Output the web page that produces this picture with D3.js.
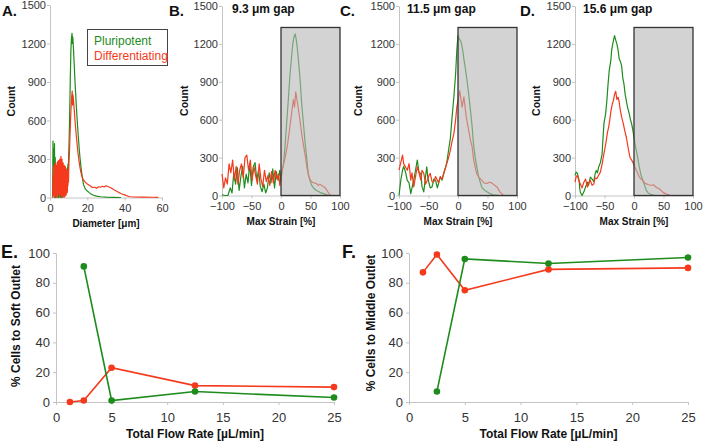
<!DOCTYPE html>
<html><head><meta charset="utf-8">
<script src="https://cdn.jsdelivr.net/npm/d3@7"></script>
<style>body{margin:0;background:#fff}svg{display:block}text{font-family:"Liberation Sans",Arial,sans-serif}</style>
</head><body><svg id="c" width="703" height="443"></svg>
<script>
// ---------- DATA ----------
const seriesNames = ["Pluripotent", "Differentiating"];
const countTicks = [0, 300, 600, 900, 1200, 1500];
const diamTicks = [0, 20, 40, 60];
const strainTicks = [-100, -50, 0, 50, 100];
const flowTicks = [0, 5, 10, 15, 20, 25];
const pctTicks = [0, 20, 40, 60, 80, 100];
const gapTitles = ["9.3 μm gap", "11.5 μm gap", "15.6 μm gap"];
const softRegionTop = 1330;

// A: diameter histograms [diameter µm, count]
const diamGreen = [[1.4,0],[1.6,440],[1.8,60],[2.0,380],[2.2,10],[2.4,420],[2.6,80],[2.8,310],[3.0,0],[3.2,220],[3.4,30],[3.6,160],[3.8,0],[4.0,130],[4.2,20],[4.4,110],[4.6,0],[4.8,90],[5.0,10],[5.2,70],[5.4,0],[5.6,60],[5.8,5],[6.0,80],[6.2,0],[6.4,50],[6.6,0],[6.8,70],[7.0,10],[7.2,120],[7.4,20],[7.6,140],[7.8,30],[8.0,90],[8.2,40],[8.4,160],[8.6,60],[8.8,200],[9.0,90],[9.2,230],[9.4,150],[9.6,260],[9.8,200],[10.0,320],[10.3,480],[10.6,700],[10.9,950],[11.2,1150],[11.5,1240],[11.8,1280],[12.0,1200],[12.2,1250],[12.5,1180],[12.8,1090],[13.1,1000],[13.4,900],[13.7,820],[14.0,740],[14.4,640],[14.8,550],[15.2,470],[15.6,390],[16.0,320],[16.5,250],[17.0,190],[17.5,140],[18.0,100],[18.5,80],[19.0,65],[20,50],[21,38],[22,28],[23,20],[24,14],[25,10],[27,6],[30,3],[34,1],[38,0]];
const diamRed = [[1.5,0],[1.65,180],[1.8,20],[1.95,240],[2.1,40],[2.25,200],[2.4,0],[2.55,260],[2.7,60],[2.85,230],[3.0,10],[3.15,270],[3.3,80],[3.45,220],[3.6,0],[3.75,250],[3.9,50],[4.05,280],[4.2,20],[4.35,240],[4.5,90],[4.65,290],[4.8,30],[4.95,250],[5.1,10],[5.25,300],[5.4,100],[5.55,260],[5.7,20],[5.85,320],[6.0,60],[6.15,280],[6.3,0],[6.45,300],[6.6,90],[6.75,240],[6.9,10],[7.05,270],[7.2,70],[7.35,220],[7.5,0],[7.65,250],[7.8,40],[7.95,210],[8.1,10],[8.25,240],[8.4,60],[8.55,200],[8.7,20],[8.85,220],[9.0,70],[9.15,190],[9.3,40],[9.45,210],[9.6,90],[9.75,230],[9.9,120],[10.1,260],[10.4,340],[10.7,480],[11.0,600],[11.3,700],[11.6,780],[11.9,830],[12.1,720],[12.3,800],[12.6,760],[12.9,700],[13.2,640],[13.5,580],[13.8,530],[14.1,480],[14.5,420],[14.9,360],[15.3,310],[15.7,270],[16.1,230],[16.5,200],[17.0,170],[17.5,150],[18,135],[19,118],[20,105],[21,95],[22,85],[23,78],[24,80],[25,72],[26,84],[27,80],[28,88],[29,82],[30,92],[31,86],[32,80],[33,72],[34,62],[35,55],[36,46],[37,38],[38,31],[39,25],[40,20],[41,15],[42,10],[43,6],[45,4],[50,3],[55,2],[58,1]];

// B: 9.3 µm gap [max strain %, count]
const gap93Green = [[-100,5],[-95,0],[-90,0],[-86,60],[-83,20],[-80,180],[-77,90],[-74,220],[-71,40],[-68,150],[-65,230],[-62,60],[-59,170],[-56,100],[-53,250],[-50,80],[-47,230],[-44,260],[-41,120],[-38,200],[-35,70],[-32,30],[-29,90],[-26,20],[-23,60],[-20,180],[-17,100],[-14,210],[-11,60],[-8,190],[-5,120],[-2,200],[0,120],[2,200],[4,240],[7,400],[10,600],[13,800],[15,940],[18,1100],[20,1200],[22,1255],[24,1280],[26,1230],[28,1150],[30,1050],[33,880],[35,730],[38,570],[41,410],[44,280],[46,180],[49,120],[52,80],[56,55],[60,40],[66,25],[72,15],[78,5],[82,0]];
const gap93Red = [[-100,170],[-97,60],[-94,140],[-91,90],[-88,250],[-85,180],[-82,280],[-79,120],[-76,230],[-73,90],[-70,200],[-67,250],[-64,140],[-61,300],[-58,320],[-55,200],[-52,280],[-49,120],[-46,230],[-43,160],[-40,90],[-37,250],[-34,130],[-31,70],[-28,200],[-25,110],[-22,160],[-19,80],[-16,190],[-13,100],[-10,200],[-7,130],[-4,170],[-2,80],[0,150],[3,220],[7,300],[11,400],[15,540],[18,650],[21,760],[23,700],[25,820],[27,760],[29,700],[32,600],[35,490],[38,400],[41,320],[44,220],[47,150],[50,120],[53,105],[56,100],[60,95],[63,80],[66,90],[70,75],[74,65],[78,40],[82,10],[85,0]];

// C: 11.5 µm gap
const gap115Green = [[-100,0],[-97,120],[-94,200],[-92,230],[-89,187],[-86,120],[-83,100],[-80,15],[-78,60],[-75,121],[-72,200],[-69,280],[-66,180],[-63,175],[-61,70],[-58,29],[-55,150],[-53,227],[-51,140],[-49,95],[-47,60],[-44,68],[-41,130],[-38,121],[-35,60],[-33,95],[-30,150],[-27,121],[-24,180],[-21,227],[-19,260],[-16,358],[-13,450],[-10,622],[-7,780],[-4,965],[-2,1150],[0,1268],[2,1240],[4,1228],[6,1200],[8,1150],[10,1080],[12,1018],[15,920],[18,807],[21,680],[24,543],[26,420],[29,306],[32,220],[35,148],[38,100],[40,68],[44,45],[49,29],[54,15],[60,5],[71,0]];
const gap115Red = [[-100,200],[-97,260],[-94,319],[-92,250],[-89,227],[-86,200],[-83,253],[-80,121],[-78,180],[-75,68],[-72,150],[-69,227],[-66,180],[-63,121],[-61,200],[-58,175],[-55,90],[-52,121],[-49,160],[-47,175],[-44,110],[-41,108],[-38,150],[-35,121],[-33,100],[-30,148],[-27,130],[-24,175],[-21,220],[-19,253],[-16,300],[-13,358],[-10,430],[-7,490],[-4,600],[-2,700],[3,828],[5,760],[7,700],[10,780],[12,700],[14,622],[18,517],[21,440],[24,385],[26,300],[29,227],[32,170],[35,148],[40,121],[44,100],[49,95],[53,105],[57,100],[61,85],[66,68],[71,29],[77,0]];

// D: 15.6 µm gap
const gap156Green = [[-100,158],[-98,185],[-96,175],[-93,120],[-92,60],[-91,26],[-88,0],[-84,40],[-82,70],[-79,105],[-77,80],[-74,145],[-71,130],[-68,110],[-66,170],[-64,198],[-62,180],[-60,224],[-57,260],[-54,330],[-53,420],[-51,567],[-48,650],[-46,751],[-44,880],[-42,988],[-39,1080],[-38,1147],[-36,1200],[-33,1265],[-31,1230],[-29,1200],[-27,1150],[-25,1080],[-23,1060],[-21,1028],[-19,930],[-17,883],[-15,800],[-13,751],[-11,700],[-8,646],[-6,600],[-4,567],[-2,520],[0,461],[2,400],[4,356],[7,280],[9,224],[12,160],[15,119],[18,80],[21,40],[24,20],[29,8],[37,0]];
const gap156Red = [[-100,105],[-98,150],[-96,158],[-93,110],[-91,92],[-88,60],[-85,105],[-82,130],[-79,66],[-77,100],[-74,119],[-71,80],[-68,92],[-66,140],[-63,132],[-60,160],[-57,185],[-54,250],[-52,303],[-49,380],[-47,435],[-45,500],[-43,540],[-41,600],[-39,672],[-37,720],[-35,751],[-33,800],[-31,825],[-29,760],[-27,778],[-25,740],[-24,698],[-21,620],[-18,567],[-16,520],[-13,461],[-10,380],[-7,303],[-4,280],[-2,264],[1,230],[4,198],[7,170],[9,145],[12,130],[15,119],[18,100],[21,92],[25,85],[29,79],[33,85],[37,66],[42,55],[46,40],[49,25],[54,13],[62,0]];

// E / F: flow-rate experiments
const flowRed = [1.25, 2.5, 5, 12.5, 25];
const flowGreen = [2.5, 5, 12.5, 25];
const softRed = [0, 1, 23, 11, 10];
const softGreen = [91, 1, 7, 3];
const middleRed = [87, 99, 75, 89, 90];
const middleGreen = [7, 96, 93, 97];

// ---------- DRAW ----------
const GREEN = "#1d8c1d", RED = "#f5391c", AXIS = "#c4c4c4", TXT = "#333";
const svg = d3.select("#c");
const fmt = d3.format("d");

function styleAxis(g, fs) {
  g.select(".domain").attr("stroke", AXIS).attr("stroke-width", 1);
  g.selectAll(".tick line").attr("stroke", AXIS);
  g.selectAll(".tick text").attr("fill", TXT).style("font-size", fs + "px")
    .style("font-family", '"Liberation Sans",Arial,sans-serif');
}

function histPanel(cfg) {
  const x = d3.scaleLinear().domain(cfg.xd).range([cfg.x0, cfg.x1]);
  const y = d3.scaleLinear().domain([0, 1500]).range([cfg.y0, cfg.y1]);
  const line = d3.line().x(d => x(d[0])).y(d => y(d[1]));
  const gx = svg.append("g").attr("transform", `translate(0,${cfg.y0})`)
    .call(d3.axisBottom(x).tickValues(cfg.xt).tickFormat(fmt).tickSize(3).tickSizeOuter(0).tickPadding(4));
  styleAxis(gx, 11);
  const gy = svg.append("g").attr("transform", `translate(${cfg.x0},0)`)
    .call(d3.axisLeft(y).tickValues(countTicks).tickFormat(fmt).tickSize(3).tickSizeOuter(0).tickPadding(1));
  styleAxis(gy, 11);
  svg.append("path").datum(cfg.green).attr("d", line).attr("fill", "none")
    .attr("stroke", GREEN).attr("stroke-width", 1.2).attr("stroke-linejoin", "round");
  svg.append("path").datum(cfg.red).attr("d", line).attr("fill", "none")
    .attr("stroke", RED).attr("stroke-width", 1.2).attr("stroke-linejoin", "round");
  if (cfg.box) {
    svg.append("rect").attr("x", x(0)).attr("y", y(softRegionTop))
      .attr("width", x(100) - x(0)).attr("height", y(0) - y(softRegionTop))
      .attr("fill", "#b6b6b6").attr("fill-opacity", 0.6);
    svg.append("rect").attr("x", x(0)).attr("y", y(softRegionTop))
      .attr("width", x(100) - x(0)).attr("height", y(0) - y(softRegionTop))
      .attr("fill", "none").attr("stroke", "#333").attr("stroke-width", 1.3);
  }
  svg.append("text").attr("x", cfg.lx).attr("y", cfg.ly).text(cfg.letter)
    .style("font-weight", "bold").style("font-size", "15px").attr("fill", "#111");
  if (cfg.title) svg.append("text").attr("x", cfg.tx).attr("y", 13).text(cfg.title)
    .style("font-weight", "bold").style("font-size", "12px").attr("fill", "#111");
  svg.append("text").attr("transform", `translate(${cfg.cx},${(cfg.y0 + cfg.y1) / 2}) rotate(-90)`)
    .attr("text-anchor", "middle").text("Count")
    .style("font-weight", "bold").style("font-size", "10.5px").attr("fill", "#111");
  svg.append("text").attr("x", (cfg.x0 + cfg.x1) / 2).attr("y", cfg.y0 + 29)
    .attr("text-anchor", "middle").text(cfg.xlabel)
    .style("font-weight", "bold").style("font-size", "10px").attr("fill", "#111");
}

histPanel({xd:[0,60], xt:diamTicks, x0:50, x1:162, y0:197.5, y1:5, red:diamRed, green:diamGreen,
  box:false, letter:"A.", lx:2, ly:16, cx:15, xlabel:"Diameter [μm]"});
histPanel({xd:[-100,100], xt:strainTicks, x0:222, x1:340, y0:195.5, y1:6, red:gap93Red, green:gap93Green,
  box:true, letter:"B.", lx:169, ly:16, title:gapTitles[0], tx:232, cx:188, xlabel:"Max Strain [%]"});
histPanel({xd:[-100,100], xt:strainTicks, x0:399, x1:517, y0:195.5, y1:6, red:gap115Red, green:gap115Green,
  box:true, letter:"C.", lx:340, ly:16, title:gapTitles[1], tx:407, cx:362, xlabel:"Max Strain [%]"});
histPanel({xd:[-100,100], xt:strainTicks, x0:575, x1:693, y0:195.5, y1:6, red:gap156Red, green:gap156Green,
  box:true, letter:"D.", lx:520, ly:16, title:gapTitles[2], tx:583, cx:540, xlabel:"Max Strain [%]"});

// legend in A
svg.append("rect").attr("x", 87.5).attr("y", 29.5).attr("width", 80).attr("height", 36)
  .attr("fill", "#fff").attr("stroke", "#444").attr("stroke-width", 1);
svg.append("text").attr("x", 94).attr("y", 45).text(seriesNames[0]).attr("fill", GREEN).style("font-size", "12px");
svg.append("text").attr("x", 94).attr("y", 60).text(seriesNames[1]).attr("fill", RED).style("font-size", "12px");

function flowPanel(cfg) {
  const x = d3.scaleLinear().domain([0, 25]).range([cfg.x0, cfg.x1]);
  const y = d3.scaleLinear().domain([0, 100]).range([402, 253]);
  const gx = svg.append("g").attr("transform", "translate(0,402)")
    .call(d3.axisBottom(x).tickValues(flowTicks).tickFormat(fmt).tickSize(3).tickSizeOuter(0).tickPadding(8));
  styleAxis(gx, 13);
  const gy = svg.append("g").attr("transform", `translate(${cfg.x0},0)`)
    .call(d3.axisLeft(y).tickValues(pctTicks).tickFormat(fmt).tickSize(3).tickSizeOuter(0).tickPadding(3));
  styleAxis(gy, 13);
  const sets = [[flowRed, cfg.red, RED], [flowGreen, cfg.green, GREEN]];
  sets.forEach(([xs, ys, col]) => {
    const pts = xs.map((v, i) => [v, ys[i]]);
    svg.append("path").datum(pts).attr("d", d3.line().x(d => x(d[0])).y(d => y(d[1])))
      .attr("fill", "none").attr("stroke", col).attr("stroke-width", 1.6);
    svg.selectAll(null).data(pts).join("circle").attr("cx", d => x(d[0])).attr("cy", d => y(d[1]))
      .attr("r", 3.3).attr("fill", col);
  });
  svg.append("text").attr("x", cfg.lx).attr("y", 258).text(cfg.letter)
    .style("font-weight", "bold").style("font-size", "18px").attr("fill", "#111");
  svg.append("text").attr("transform", `translate(${cfg.cx},${cfg.cy}) rotate(-90)`)
    .attr("text-anchor", "middle").text(cfg.ylabel)
    .style("font-weight", "bold").style("font-size", "12px").attr("fill", "#111");
  svg.append("text").attr("x", (cfg.x0 + cfg.x1) / 2).attr("y", 438).attr("text-anchor", "middle")
    .text("Total Flow Rate [µL/min]").style("font-weight", "bold").style("font-size", "12px").attr("fill", "#111");
}
flowPanel({x0:56, x1:334, red:softRed, green:softGreen, letter:"E.", lx:1, cx:20, cy:326, ylabel:"% Cells to Soft Outlet"});
flowPanel({x0:409, x1:688, red:middleRed, green:middleGreen, letter:"F.", lx:342, cx:375, cy:323, ylabel:"% Cells to Middle Outlet"});
</script></body></html>
